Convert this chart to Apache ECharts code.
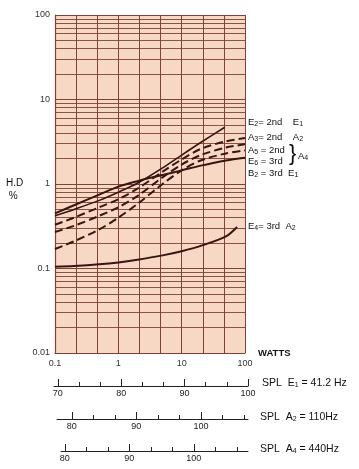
<!DOCTYPE html>
<html><head><meta charset="utf-8">
<script src="https://cdn.jsdelivr.net/npm/echarts@6/dist/echarts.min.js"></script>
<style>html,body{margin:0;padding:0;background:#fff}#c{width:359px;height:469px}</style>
</head><body><div id="c"></div>
<script>
// ---- data ----
const wattsA = [0.1, 0.2, 0.5, 1, 2, 5, 10, 20, 50, 100];
const e2Watts = [0.1, 0.2, 0.5, 1, 2, 5, 10, 20, 48];
const e2HD = [0.42, 0.5, 0.64, 0.8, 1.02, 1.55, 2.2, 3.1, 4.7];
const a3HD = [0.33, 0.4, 0.53, 0.66, 0.88, 1.4, 1.95, 2.6, 3.2, 3.5];
const a5HD = [0.27, 0.32, 0.42, 0.53, 0.72, 1.2, 1.7, 2.2, 2.7, 2.95];
const e6HD = [0.17, 0.21, 0.29, 0.4, 0.58, 1.0, 1.45, 1.9, 2.3, 2.5];
const b2HD = [0.45, 0.56, 0.75, 0.93, 1.08, 1.28, 1.45, 1.65, 1.9, 2.05];
const e4Watts = [0.1, 0.2, 0.5, 1, 2, 5, 10, 20, 50, 75];
const e4HD = [0.105, 0.107, 0.112, 0.118, 0.127, 0.143, 0.16, 0.185, 0.24, 0.31];
// SPL scales
const splE1Range = [69.4, 100];
const splE1Major = [70, 80, 90, 100];
const splE1Minor = [73.33, 76.67, 83.33, 86.67, 93.33, 96.67];
const splA2Range = [77.7, 107.3];
const splA2Major = [80, 90, 100];
const splA2Minor = [83.33, 86.67, 93.33, 96.67, 103.33, 106.67];
const splA4Range = [79.4, 108.4];
const splA4Major = [80, 90, 100];
const splA4Minor = [83.33, 86.67, 93.33, 96.67, 103.33, 106.67];

const pair = (xs, ys) => xs.map((x, i) => [x, ys[i]]);
const INK = '#3a1410';
const GRIDC = '#7e4336';
const FONT = 'Liberation Sans';

const chart = echarts.init(document.getElementById('c'), null, {renderer: 'canvas'});

function splAxis(gridIndex, range, values, len, main) {
  return {
    type: 'value', gridIndex, min: range[0], max: range[1], position: 'bottom',
    axisLine: {show: main, lineStyle: {color: '#222', width: 1}},
    axisTick: {show: true, inside: true, length: len, customValues: values, lineStyle: {color: '#222', width: 1}},
    axisLabel: {show: main, customValues: values, margin: 3, fontSize: 9, color: '#222', fontFamily: FONT},
    splitLine: {show: false}
  };
}
function hiddenY(gridIndex) {
  return {type: 'value', gridIndex, show: false, min: 0, max: 1};
}

const sub = {fontSize: 7, fontFamily: FONT, color: '#111', verticalAlign: 'bottom', padding: [4, 0, 0, 0]};
const nrm = {fontSize: 9.5, fontFamily: FONT, color: '#111'};
function label(x, y, txt, size) {
  return {type: 'text', left: x, top: y, style: {text: txt, rich: {n: Object.assign({}, nrm, size ? {fontSize: size} : {}), s: sub}, fill: '#111', font: '9.5px ' + FONT}};
}
function curve(name, data, dashed, width) {
  return {
    name, type: 'line', xAxisIndex: 0, yAxisIndex: 0, data,
    smooth: 0.3, showSymbol: false,
    lineStyle: {color: INK, width: width, type: dashed ? [8, 4] : 'solid'}
  };
}

chart.setOption({
  animation: false,
  backgroundColor: '#fff',
  grid: [
    {left: 55, top: 15, width: 190, height: 338, show: true, backgroundColor: '#f6d8c4', borderWidth: 0},
    {left: 54, top: 380, width: 194, height: 6},
    {left: 57, top: 413, width: 191, height: 6},
    {left: 61, top: 445, width: 187, height: 6}
  ],
  xAxis: [
    {
      type: 'log', gridIndex: 0, min: 0.1, max: 100, interval: 1 / 3,
      name: 'WATTS', nameLocation: 'end', nameGap: 13,
      nameTextStyle: {fontSize: 9.5, color: '#111', fontFamily: FONT, fontWeight: 'bold'},
      axisLine: {show: true, lineStyle: {color: GRIDC, width: 1.2}},
      axisTick: {show: false},
      axisLabel: {
        margin: 6, fontSize: 9, color: '#333', fontFamily: FONT,
        formatter: v => {
          const l = Math.log10(v), r = Math.round(l);
          return Math.abs(l - r) < 1e-3 ? String(Math.pow(10, r)) : '';
        }
      },
      splitLine: {show: true, lineStyle: {color: GRIDC, width: 1}}
    },
    splAxis(1, splE1Range, splE1Major, 7, true),
    splAxis(1, splE1Range, splE1Minor, 4, false),
    splAxis(2, splA2Range, splA2Major, 7, true),
    splAxis(2, splA2Range, splA2Minor, 4, false),
    splAxis(3, splA4Range, splA4Major, 7, true),
    splAxis(3, splA4Range, splA4Minor, 4, false)
  ],
  yAxis: [
    {
      type: 'log', gridIndex: 0, min: 0.01, max: 100,
      axisLine: {show: true, lineStyle: {color: GRIDC, width: 1.2}},
      axisTick: {show: false},
      axisLabel: {margin: 5, fontSize: 9, color: '#333', fontFamily: FONT},
      splitLine: {show: true, lineStyle: {color: GRIDC, width: 1.2}},
      minorTick: {show: false, splitNumber: 9},
      minorSplitLine: {show: true, lineStyle: {color: GRIDC, width: 0.9}}
    },
    hiddenY(1), hiddenY(2), hiddenY(3)
  ],
  series: [
    curve('E2', pair(e2Watts, e2HD), false, 1.6),
    curve('A3', pair(wattsA, a3HD), true, 2),
    curve('A5', pair(wattsA, a5HD), true, 2),
    curve('E6', pair(wattsA, e6HD), true, 2),
    curve('B2', pair(wattsA, b2HD), false, 2),
    curve('E4', pair(e4Watts, e4HD), false, 2)
  ],
  graphic: [
    {type: 'text', left: 6, top: 177, style: {text: 'H.D\n %', font: '10px ' + FONT, fill: '#111', lineHeight: 13}},
    label(248, 117, '{n|E}{s|2}{n|= 2nd    E}{s|1}'),
    label(248, 132, '{n|A}{s|3}{n|= 2nd    A}{s|2}'),
    label(248, 145, '{n|A}{s|5}{n| = 2nd}'),
    label(248, 156, '{n|E}{s|6}{n| = 3rd}'),
    {type: 'text', left: 289, top: 143, style: {text: '}', font: '22px ' + FONT, fill: '#111'}},
    label(298, 151, '{n|A}{s|4}'),
    label(248, 168, '{n|B}{s|2}{n| = 3rd  E}{s|1}'),
    label(248, 221, '{n|E}{s|4}{n|= 3rd  A}{s|2}'),
    label(262, 378, '{n|SPL  E}{s|1}{n| = 41.2 Hz}', 10.5),
    label(260, 412, '{n|SPL  A}{s|2}{n| = 110Hz}', 10.5),
    label(260, 444, '{n|SPL  A}{s|4}{n| = 440Hz}', 10.5)
  ]
});
</script></body></html>
